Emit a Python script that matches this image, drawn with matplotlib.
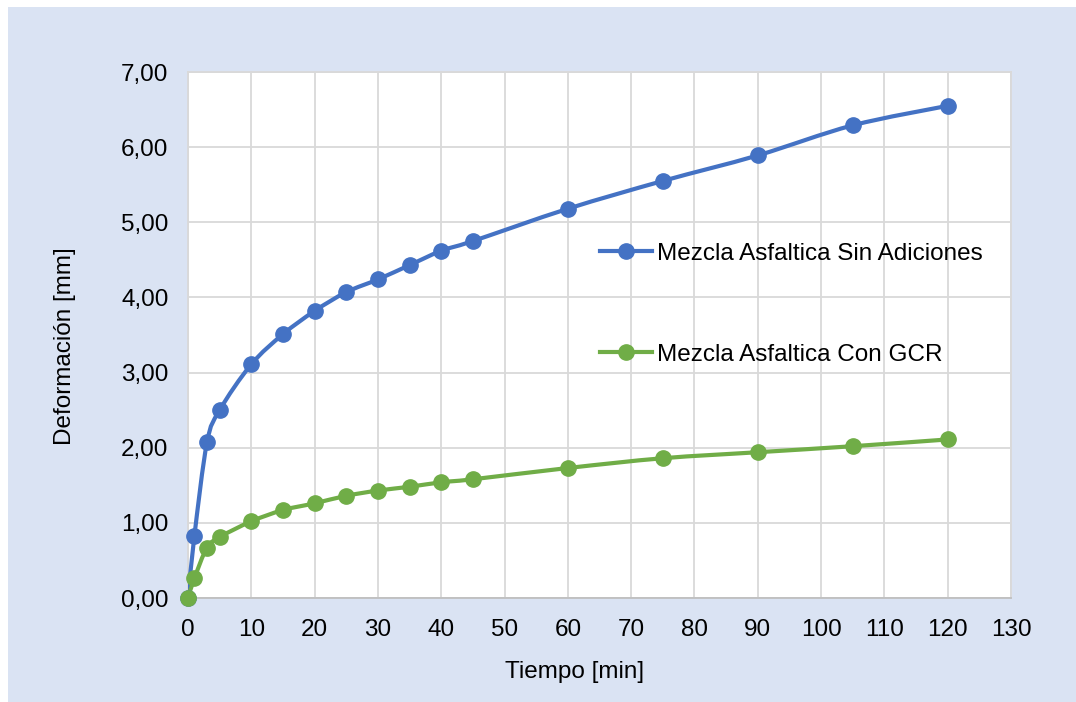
import matplotlib
matplotlib.use('Agg')
import matplotlib.pyplot as plt
from matplotlib.path import Path
from matplotlib.patches import PathPatch, Rectangle
from matplotlib.lines import Line2D
from matplotlib.ticker import FuncFormatter
import numpy as np

plt.rcParams['font.family'] = ['Liberation Sans', 'DejaVu Sans']

# data
tiempo = [0, 1, 3, 5, 10, 15, 20, 25, 30, 35, 40, 45, 60, 75, 90, 105, 120]
sin_adiciones = [0.00, 0.82, 2.07, 2.50, 3.11, 3.51, 3.82, 4.07, 4.24, 4.43, 4.62, 4.75,
                 5.18, 5.55, 5.89, 6.29, 6.55]
con_gcr = [0.00, 0.26, 0.67, 0.81, 1.02, 1.17, 1.26, 1.36, 1.43, 1.48, 1.54, 1.58,
           1.73, 1.86, 1.94, 2.02, 2.11]
labels = ['Mezcla Asfaltica Sin Adiciones', 'Mezcla Asfaltica Con GCR']

BLUE = '#4472C4'
GREEN = '#70AD47'
BG = '#DAE3F3'
FS = 17.5
W, H = 1076, 702


def smooth_path(xs, ys, tension=1/6):
    # Excel-like smoothed line: Catmull-Rom segments as cubic Bezier curves
    pts = np.column_stack([xs, ys]).astype(float)
    verts = [pts[0]]
    codes = [Path.MOVETO]
    n = len(pts)
    for i in range(n - 1):
        p0 = pts[i - 1] if i > 0 else pts[i]
        p1 = pts[i]
        p2 = pts[i + 1]
        p3 = pts[i + 2] if i + 2 < n else pts[i + 1]
        c1 = p1 + (p2 - p0) * tension
        c2 = p2 - (p3 - p1) * tension
        verts += [c1, c2, p2]
        codes += [Path.CURVE4] * 3
    return Path(verts, codes)


fig = plt.figure(figsize=(W / 100, H / 100), dpi=100)
fig.patch.set_facecolor('white')
fig.patches.append(Rectangle((8 / W, 0), 1 - 8 / W, 1 - 7 / H,
                             transform=fig.transFigure, facecolor=BG,
                             edgecolor='none', zorder=-10))

ax = fig.add_axes([188 / W, 1 - 598 / H, (1011 - 188) / W, (598 - 72) / H])
ax.set_facecolor('white')
ax.set_xlim(0, 130)
ax.set_ylim(0, 7)
ax.set_xticks(np.arange(0, 131, 10))
ax.set_yticks(np.arange(0, 7.01, 1))
ax.yaxis.set_major_formatter(FuncFormatter(lambda v, p: f'{v:.2f}'.replace('.', ',')))
ax.grid(True, color='#D9D9D9', linewidth=1.3)
ax.set_axisbelow(True)
for s in ['top', 'right', 'left']:
    ax.spines[s].set_color('#D9D9D9')
    ax.spines[s].set_linewidth(1.3)
ax.spines['bottom'].set_color('#BFBFBF')
ax.spines['bottom'].set_linewidth(1.3)
ax.tick_params(length=0, labelsize=FS, colors='black')
ax.tick_params(axis='y', pad=14)
ax.tick_params(axis='x', pad=15)

for ys, col in [(sin_adiciones, BLUE), (con_gcr, GREEN)]:
    ax.add_patch(PathPatch(smooth_path(tiempo, ys), facecolor='none', edgecolor=col,
                           linewidth=3, zorder=3, transform=ax.transData))
    ax.plot(tiempo, ys, linestyle='none', marker='o', markersize=11,
            color=col, zorder=4, clip_on=False)

fig.text(65 / W, 1 - 346 / H, 'Deformación [mm]', fontsize=FS, rotation=90,
         ha='center', va='center')
fig.text(575 / W, 1 - 672 / H, 'Tiempo [min]', fontsize=FS, ha='center', va='center')

handles = [Line2D([], [], color=BLUE, linewidth=3, marker='o', markersize=11),
           Line2D([], [], color=GREEN, linewidth=3, marker='o', markersize=11)]
ax.legend(handles, labels, loc='upper left', bbox_to_anchor=(0.5, 0.675),
          frameon=False, fontsize=FS, labelspacing=3.25, handlelength=2.15,
          handletextpad=0.2, borderpad=0, borderaxespad=0)

fig.savefig('out.png', dpi=100, facecolor=fig.get_facecolor())
